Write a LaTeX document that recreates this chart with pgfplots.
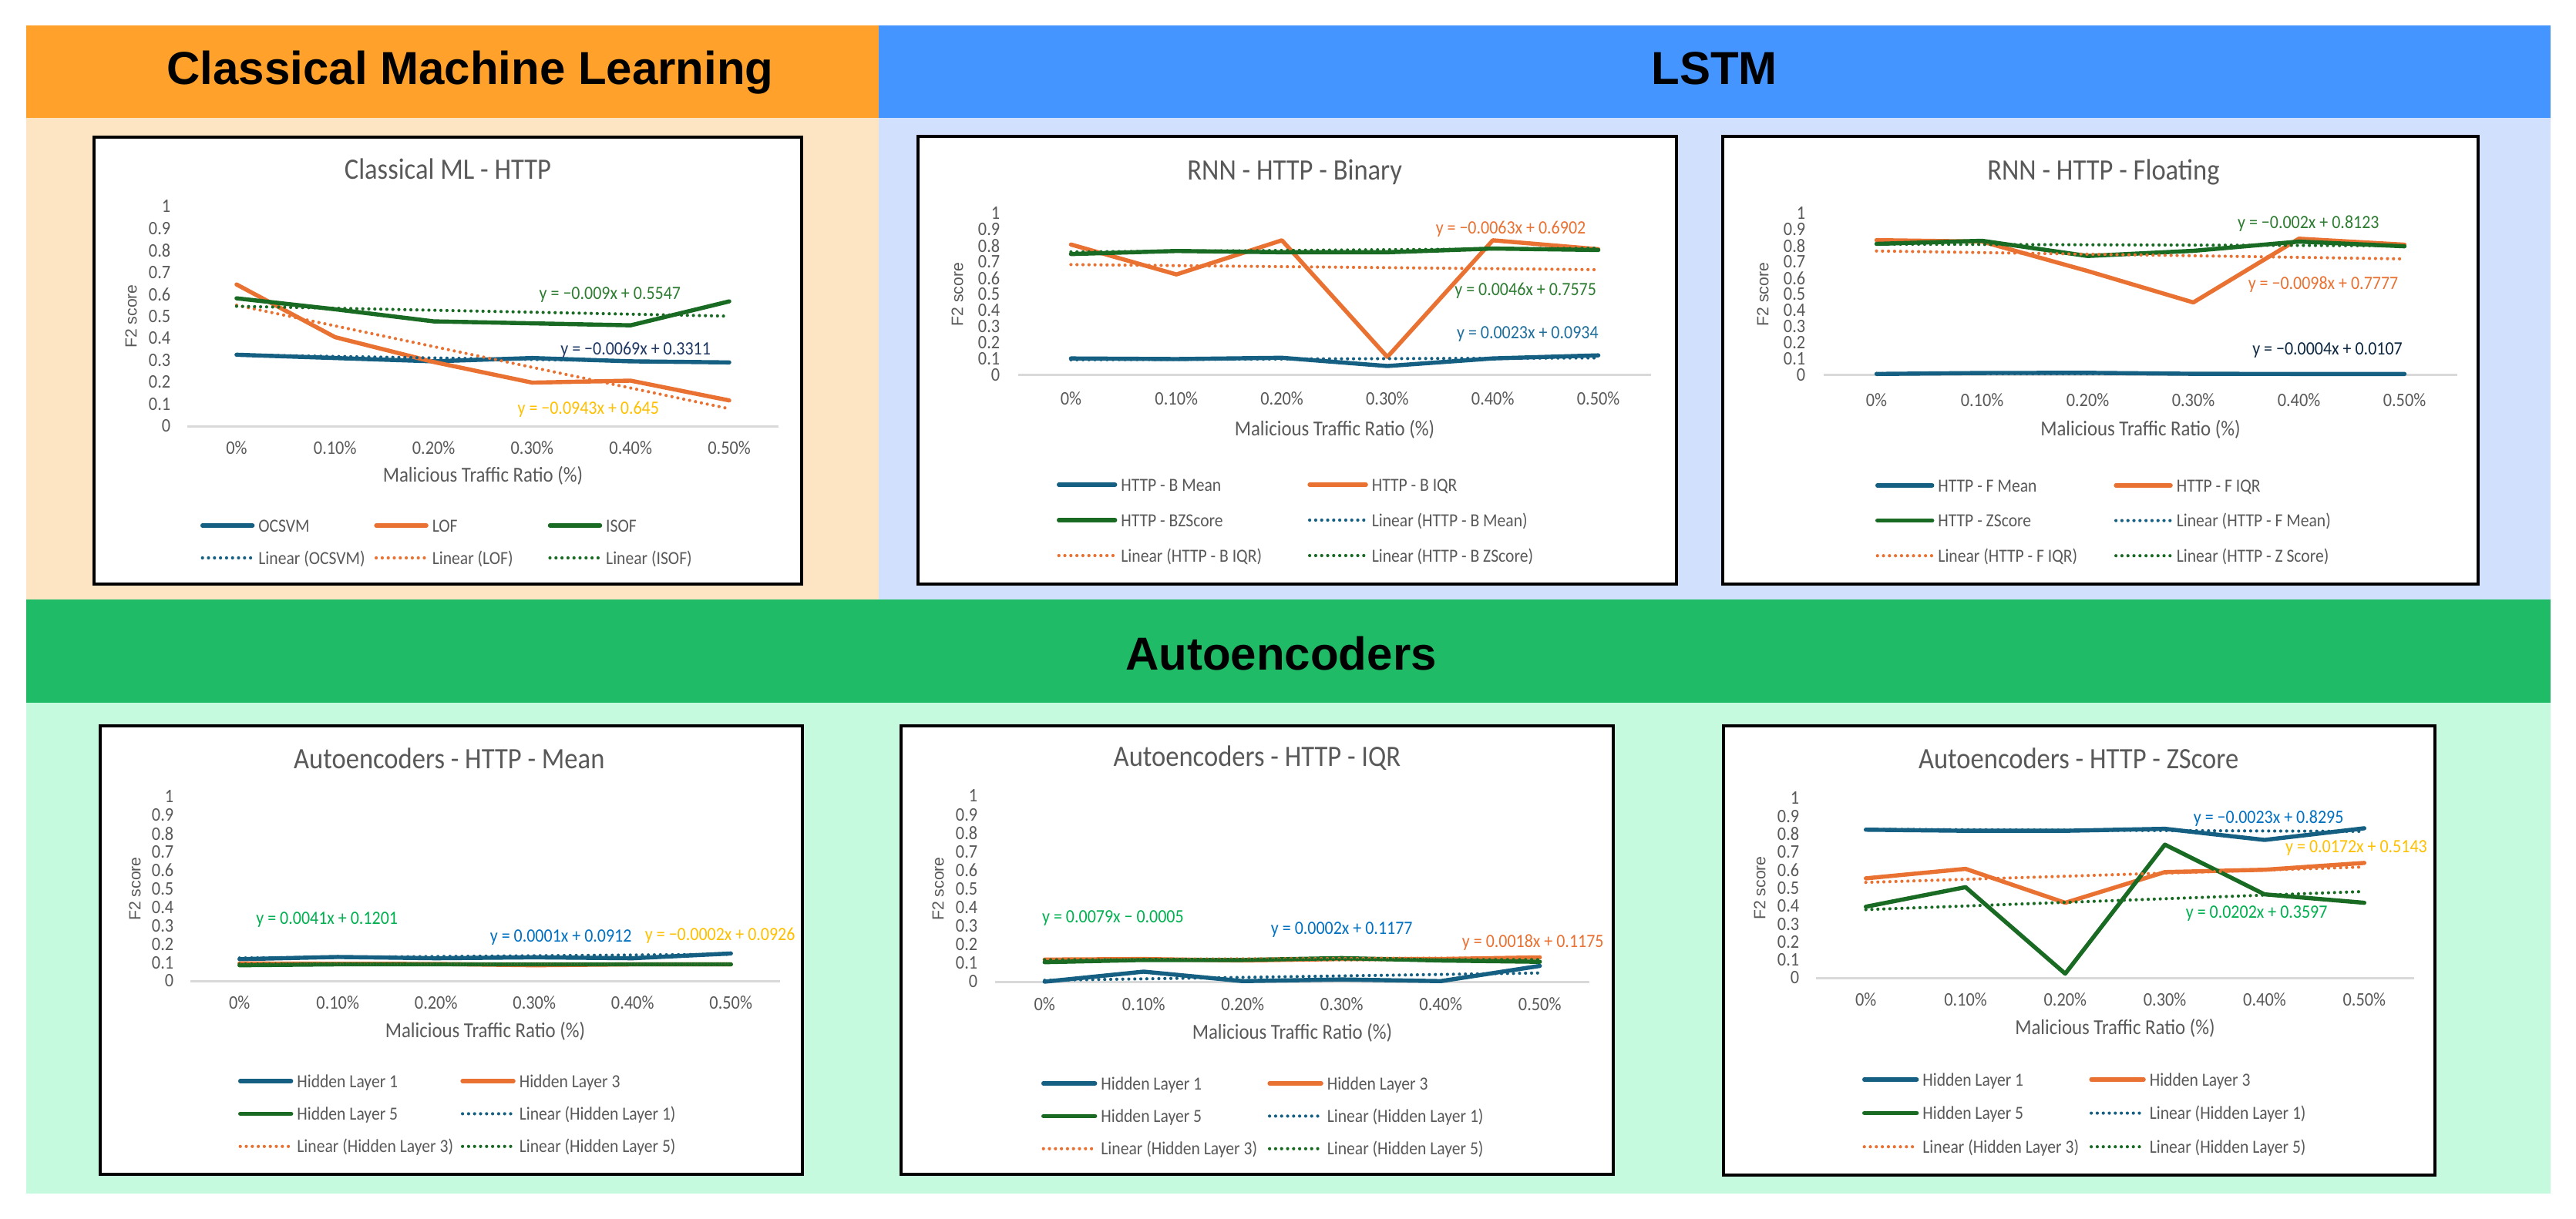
\documentclass[border=0pt]{standalone}
\usepackage{pgfplots}
\pgfplotsset{compat=1.18}
\usepackage{fontspec}
\setmainfont{Carlito}
\newfontfamily\chartfont{Carlito}[FakeStretch=0.9]
\newfontfamily\arialfont{Liberation Sans}

\definecolor{cblue}{HTML}{156082}
\definecolor{corange}{HTML}{E97132}
\definecolor{cgreen}{HTML}{196B24}
\definecolor{tgray}{HTML}{595959}
\definecolor{axgray}{HTML}{D9D9D9}
\definecolor{hOrange}{HTML}{FFA12B}
\definecolor{hBlue}{HTML}{4495FF}
\definecolor{hGreen}{HTML}{1FBB66}
\definecolor{pOrange}{HTML}{FDE4C3}
\definecolor{pBlue}{HTML}{D0E0FD}
\definecolor{pGreen}{HTML}{C6FADF}
\definecolor{lGreenD}{HTML}{2E7D32}
\definecolor{lNavy}{HTML}{203864}
\definecolor{lNavyD}{HTML}{0E2841}
\definecolor{lGold}{HTML}{FFC000}
\definecolor{lGreenB}{HTML}{00B050}
\definecolor{lBlueB}{HTML}{0070C0}
\definecolor{lBlueT}{HTML}{1F6F9F}

\tikzset{eq/.style={font=\chartfont\fontsize{6.1}{6}\selectfont, inner sep=0pt, anchor=center}}

\pgfplotsset{
  xchart/.style={
    scale only axis, clip=false, anchor=south west,
    xmin=-0.5, xmax=5.5, ymin=0, ymax=1,
    axis line style={draw=none},
    major tick style={draw=none}, minor tick style={draw=none},
    xtick={0,1,2,3,4,5},
    xticklabels={0\%,0.10\%,0.20\%,0.30\%,0.40\%,0.50\%},
    ytick={0,0.1,0.2,0.3,0.4,0.5,0.6,0.7,0.8,0.9,1},
    yticklabels={0,0.1,0.2,0.3,0.4,0.5,0.6,0.7,0.8,0.9,1},
    tick label style={font=\chartfont\fontsize{6.2}{6}\selectfont, text=tgray, inner sep=0pt},
    yticklabel style={anchor=east},
    xticklabel style={anchor=center},
    every axis title/.style={font=\chartfont\fontsize{9.6}{10}\selectfont, text=tgray, anchor=center, inner sep=0pt},
    xlabel style={font=\chartfont\fontsize{6.9}{7}\selectfont, text=tgray, anchor=center, inner sep=0pt},
    ylabel style={font=\arialfont\fontsize{5.3}{6}\selectfont, text=tgray, anchor=center, inner sep=0pt},
    xlabel={Malicious Traffic Ratio (\%)},
    ylabel={F2 score},
    legend cell align=left,
    legend style={draw=none, fill=none, inner sep=0pt, outer sep=0pt, column sep=0pt,
       at={(axis description cs:0,0)}, anchor=north west,
       nodes={inner sep=0pt, text height=4pt, text depth=0pt, font=\chartfont\fontsize{6}{6}\selectfont, text=tgray}},
  },
  dl/.style={line width=1.35pt, line join=round, line cap=round, #1},
  tl/.style={line width=1.05pt, line cap=round, dash pattern=on 0pt off 1.95pt, #1},
}
\newcommand{\legent}[2]{\addlegendentry{\makebox[#1][l]{\hspace{1.25pt}#2}}}
\newcommand{\xaxisline}{\draw[axgray, line width=0.75pt] (axis cs:-0.5,0) -- (axis cs:5.5,0);}

\begin{document}
\begin{tikzpicture}
\begin{scope}[x=0.25pt, y=-0.25pt]
\fill[white] (0,0) rectangle (3342,1582);
\fill[hOrange] (34,33) rectangle (1140,153);
\fill[hBlue] (1140,33) rectangle (3309,153);
\fill[pOrange] (34,153) rectangle (1140,778);
\fill[pBlue] (1140,153) rectangle (3309,778);
\fill[hGreen] (34,778) rectangle (3309,912);
\fill[pGreen] (34,912) rectangle (3309,1549);
\filldraw[fill=white, draw=black, line width=1pt] (122,178) rectangle (1040,758);
\filldraw[fill=white, draw=black, line width=1pt] (1191,177) rectangle (2175,758);
\filldraw[fill=white, draw=black, line width=1pt] (2235,177) rectangle (3215,758);
\filldraw[fill=white, draw=black, line width=1pt] (130,942) rectangle (1041,1524);
\filldraw[fill=white, draw=black, line width=1pt] (1169,942) rectangle (2093,1524);
\filldraw[fill=white, draw=black, line width=1pt] (2236,942) rectangle (3159,1525);
\node[anchor=base, inner sep=0pt, font=\arialfont\bfseries\fontsize{15}{15}\selectfont] at (610,110) {Classical Machine Learning};
\node[anchor=base, inner sep=0pt, font=\arialfont\bfseries\fontsize{15}{15}\selectfont] at (2224,110) {LSTM};
\node[anchor=base, inner sep=0pt, font=\arialfont\bfseries\fontsize{15}{15}\selectfont] at (1662,869) {Autoencoders};
\end{scope}

% ---------- Chart 1 ----------
\begin{axis}[xchart, at={(60.75pt,-138.25pt)}, width=191.75pt, height=71.25pt,
  title={Classical ML - HTTP}, title style={at={(axis description cs:0.4407,1.1719)}},
  xlabel style={at={(axis description cs:0.5,-0.2246)}},
  ylabel style={at={(axis description cs:-0.0952,0.5)}},
  yticklabel style={xshift=-5.25pt}, xticklabel style={yshift=-7pt},
  legend columns=3,
  legend style={xshift=4.25pt, yshift=-30.25pt, row sep=6.5pt},
  legend image code/.code={\draw[#1] (0pt,0pt) -- (16.25pt,0pt);}]
\xaxisline
\addplot[dl=cblue] coordinates {(0,0.325) (1,0.310) (2,0.295) (3,0.310) (4,0.295) (5,0.290)}; \legent{38.75pt}{OCSVM}
\addplot[dl=corange] coordinates {(0,0.645) (1,0.405) (2,0.292) (3,0.198) (4,0.207) (5,0.117)}; \legent{38.75pt}{LOF}
\addplot[dl=cgreen] coordinates {(0,0.582) (1,0.532) (2,0.477) (3,0.468) (4,0.459) (5,0.568)}; \legent{38.75pt}{ISOF}
\addplot[tl=cblue] coordinates {(0,0.3242) (5,0.2897)}; \legent{38.75pt}{Linear (OCSVM)}
\addplot[tl=corange] coordinates {(0,0.5507) (5,0.0792)}; \legent{38.75pt}{Linear (LOF)}
\addplot[tl=cgreen] coordinates {(0,0.5457) (5,0.5007)}; \legent{38.75pt}{Linear (ISOF)}
\node[eq, text=lGreenD] at (axis cs:3.79,0.598) {y = −0.009x + 0.5547};
\node[eq, text=lNavy] at (axis cs:4.05,0.348) {y = −0.0069x + 0.3311};
\node[eq, text=lGold] at (axis cs:3.57,0.076) {y = −0.0943x + 0.645};
\end{axis}

% ---------- Chart 2 ----------
\begin{axis}[xchart, at={(330.25pt,-121.75pt)}, width=205.25pt, height=52.5pt,
  title={RNN - HTTP - Binary}, title style={at={(axis description cs:0.437,1.2571)}},
  xlabel style={at={(axis description cs:0.5,-0.3333)}},
  ylabel style={at={(axis description cs:-0.0962,0.5)}},
  yticklabel style={xshift=-5.75pt}, xticklabel style={yshift=-7.5pt},
  legend columns=2,
  legend style={xshift=12.5pt, yshift=-33.5pt, row sep=7.5pt},
  legend image code/.code={\draw[#1] (0pt,0pt) -- (18.25pt,0pt);}]
\xaxisline
\addplot[dl=cblue] coordinates {(0,0.104) (1,0.100) (2,0.108) (3,0.057) (4,0.104) (5,0.123)}; \legent{61.75pt}{HTTP - B Mean}
\addplot[dl=corange] coordinates {(0,0.808) (1,0.623) (2,0.834) (3,0.113) (4,0.834) (5,0.779)}; \legent{61.75pt}{HTTP - B IQR}
\addplot[dl=cgreen] coordinates {(0,0.749) (1,0.768) (2,0.760) (3,0.760) (4,0.783) (5,0.774)}; \legent{61.75pt}{HTTP - BZScore}
\addplot[tl=cblue] coordinates {(0,0.0957) (5,0.1072)}; \legent{61.75pt}{Linear (HTTP - B Mean)}
\addplot[tl=corange] coordinates {(0,0.6839) (5,0.6524)}; \legent{61.75pt}{Linear (HTTP - B IQR)}
\addplot[tl=cgreen] coordinates {(0,0.7621) (5,0.7851)}; \legent{61.75pt}{Linear (HTTP - B ZScore)}
\node[eq, text=corange] at (axis cs:4.17,0.906) {y = −0.0063x + 0.6902};
\node[eq, text=lGreenD] at (axis cs:4.31,0.523) {y = 0.0046x + 0.7575};
\node[eq, text=lBlueT] at (axis cs:4.33,0.255) {y = 0.0023x + 0.0934};
\end{axis}

% ---------- Chart 3 ----------
\begin{axis}[xchart, at={(591.5pt,-121.75pt)}, width=205.5pt, height=52.5pt,
  title={RNN - HTTP - Floating}, title style={at={(axis description cs:0.4416,1.2571)}},
  xlabel style={at={(axis description cs:0.5,-0.3333)}},
  ylabel style={at={(axis description cs:-0.0961,0.5)}},
  yticklabel style={xshift=-5.75pt}, xticklabel style={yshift=-8pt},
  legend columns=2,
  legend style={xshift=16.75pt, yshift=-33.75pt, row sep=7.4pt},
  legend image code/.code={\draw[#1] (0pt,0pt) -- (17.75pt,0pt);}]
\xaxisline
\addplot[dl=cblue] coordinates {(0,0.008) (1,0.014) (2,0.015) (3,0.009) (4,0.008) (5,0.008)}; \legent{58.25pt}{HTTP - F Mean}
\addplot[dl=corange] coordinates {(0,0.835) (1,0.826) (2,0.644) (3,0.450) (4,0.844) (5,0.807)}; \legent{58.25pt}{HTTP - F IQR}
\addplot[dl=cgreen] coordinates {(0,0.812) (1,0.831) (2,0.737) (3,0.769) (4,0.826) (5,0.797)}; \legent{58.25pt}{HTTP - ZScore}
\addplot[tl=cblue] coordinates {(0,0.0103) (5,0.0083)}; \legent{58.25pt}{Linear (HTTP - F Mean)}
\addplot[tl=corange] coordinates {(0,0.7679) (5,0.7189)}; \legent{58.25pt}{Linear (HTTP - F IQR)}
\addplot[tl=cgreen] coordinates {(0,0.8103) (5,0.8003)}; \legent{58.25pt}{Linear (HTTP - Z Score)}
\node[eq, text=lGreenD] at (axis cs:4.09,0.938) {y = −0.002x + 0.8123};
\node[eq, text=corange] at (axis cs:4.23,0.559) {y = −0.0098x + 0.7777};
\node[eq, text=lNavyD] at (axis cs:4.27,0.156) {y = −0.0004x + 0.0107};
\end{axis}

% ---------- Chart 4 ----------
\begin{axis}[xchart, at={(61.75pt,-318.25pt)}, width=191.25pt, height=59.75pt,
  title={Autoencoders - HTTP - Mean}, title style={at={(axis description cs:0.439,1.2092)}},
  xlabel style={at={(axis description cs:0.5,-0.272)}},
  ylabel style={at={(axis description cs:-0.0941,0.5)}},
  yticklabel style={xshift=-5.25pt}, xticklabel style={yshift=-7pt},
  legend columns=2,
  legend style={xshift=15.5pt, yshift=-30.5pt, row sep=6.6pt},
  legend image code/.code={\draw[#1] (0pt,0pt) -- (16.5pt,0pt);}]
\xaxisline
\addplot[dl=cblue] coordinates {(0,0.118) (1,0.130) (2,0.123) (3,0.128) (4,0.123) (5,0.149)}; \legent{54.25pt}{Hidden Layer 1}
\addplot[dl=corange] coordinates {(0,0.095) (1,0.093) (2,0.092) (3,0.085) (4,0.090) (5,0.090)}; \legent{54.25pt}{Hidden Layer 3}
\addplot[dl=cgreen] coordinates {(0,0.085) (1,0.090) (2,0.090) (3,0.090) (4,0.090) (5,0.090)}; \legent{54.25pt}{Hidden Layer 5}
\addplot[tl=cblue] coordinates {(0,0.1242) (5,0.1447)}; \legent{54.25pt}{Linear (Hidden Layer 1)}
\addplot[tl=corange] coordinates {(0,0.0924) (5,0.0914)}; \legent{54.25pt}{Linear (Hidden Layer 3)}
\addplot[tl=cgreen] coordinates {(0,0.0913) (5,0.0918)}; \legent{54.25pt}{Linear (Hidden Layer 5)}
\node[eq, text=lGreenB] at (axis cs:0.89,0.334) {y = 0.0041x + 0.1201};
\node[eq, text=lBlueB] at (axis cs:3.27,0.235) {y = 0.0001x + 0.0912};
\node[eq, text=lGold] at (axis cs:4.89,0.248) {y = −0.0002x + 0.0926};
\end{axis}

% ---------- Chart 5 ----------
\begin{axis}[xchart, at={(322.75pt,-318.5pt)}, width=192.75pt, height=60.25pt,
  title={Autoencoders - HTTP - IQR}, title style={at={(axis description cs:0.441,1.2033)}},
  xlabel style={at={(axis description cs:0.5,-0.2739)}},
  ylabel style={at={(axis description cs:-0.096,0.5)}},
  yticklabel style={xshift=-5.5pt}, xticklabel style={yshift=-7.25pt},
  legend columns=2,
  legend style={xshift=15pt, yshift=-31pt, row sep=6.6pt},
  legend image code/.code={\draw[#1] (0pt,0pt) -- (16.75pt,0pt);}]
\xaxisline
\addplot[dl=cblue] coordinates {(0,0.000) (1,0.054) (2,0.003) (3,0.012) (4,0.003) (5,0.085)}; \legent{55.25pt}{Hidden Layer 1}
\addplot[dl=corange] coordinates {(0,0.119) (1,0.122) (2,0.114) (3,0.122) (4,0.122) (5,0.131)}; \legent{55.25pt}{Hidden Layer 3}
\addplot[dl=cgreen] coordinates {(0,0.105) (1,0.117) (2,0.117) (3,0.127) (4,0.114) (5,0.107)}; \legent{55.25pt}{Hidden Layer 5}
\addplot[tl=cblue] coordinates {(0,0.0074) (5,0.0469)}; \legent{55.25pt}{Linear (Hidden Layer 1)}
\addplot[tl=corange] coordinates {(0,0.1193) (5,0.1283)}; \legent{55.25pt}{Linear (Hidden Layer 3)}
\addplot[tl=cgreen] coordinates {(0,0.1179) (5,0.1189)}; \legent{55.25pt}{Linear (Hidden Layer 5)}
\node[eq, text=lGreenB] at (axis cs:0.69,0.342) {y = 0.0079x − 0.0005};
\node[eq, text=lBlueB] at (axis cs:3.0,0.28) {y = 0.0002x + 0.1177};
\node[eq, text=corange] at (axis cs:4.93,0.212) {y = 0.0018x + 0.1175};
\end{axis}

% ---------- Chart 6 ----------
\begin{axis}[xchart, at={(589pt,-317.25pt)}, width=194pt, height=58.25pt,
  title={Autoencoders - HTTP - ZScore}, title style={at={(axis description cs:0.439,1.2232)}},
  xlabel style={at={(axis description cs:0.5,-0.279)}},
  ylabel style={at={(axis description cs:-0.0941,0.5)}},
  yticklabel style={xshift=-5.25pt}, xticklabel style={yshift=-7pt},
  legend columns=2,
  legend style={xshift=15pt, yshift=-31pt, row sep=6.9pt},
  legend image code/.code={\draw[#1] (0pt,0pt) -- (17pt,0pt);}]
\xaxisline
\addplot[dl=cblue] coordinates {(0,0.825) (1,0.819) (2,0.819) (3,0.830) (4,0.768) (5,0.833)}; \legent{55.25pt}{Hidden Layer 1}
\addplot[dl=corange] coordinates {(0,0.554) (1,0.607) (2,0.418) (3,0.589) (4,0.602) (5,0.640)}; \legent{55.25pt}{Hidden Layer 3}
\addplot[dl=cgreen] coordinates {(0,0.396) (1,0.505) (2,0.023) (3,0.742) (4,0.465) (5,0.418)}; \legent{55.25pt}{Hidden Layer 5}
\addplot[tl=cblue] coordinates {(0,0.8272) (5,0.8157)}; \legent{55.25pt}{Linear (Hidden Layer 1)}
\addplot[tl=corange] coordinates {(0,0.5315) (5,0.6175)}; \legent{55.25pt}{Linear (Hidden Layer 3)}
\addplot[tl=cgreen] coordinates {(0,0.3799) (5,0.4809)}; \legent{55.25pt}{Linear (Hidden Layer 5)}
\node[eq, text=lBlueB] at (axis cs:4.04,0.886) {y = −0.0023x + 0.8295};
\node[eq, text=lGold] at (axis cs:4.92,0.725) {y = 0.0172x + 0.5143};
\node[eq, text=lGreenB] at (axis cs:3.92,0.360) {y = 0.0202x + 0.3597};
\end{axis}

\pgfresetboundingbox
\useasboundingbox (0pt,0pt) rectangle (835.5pt,-395.5pt);
\end{tikzpicture}
\end{document}
